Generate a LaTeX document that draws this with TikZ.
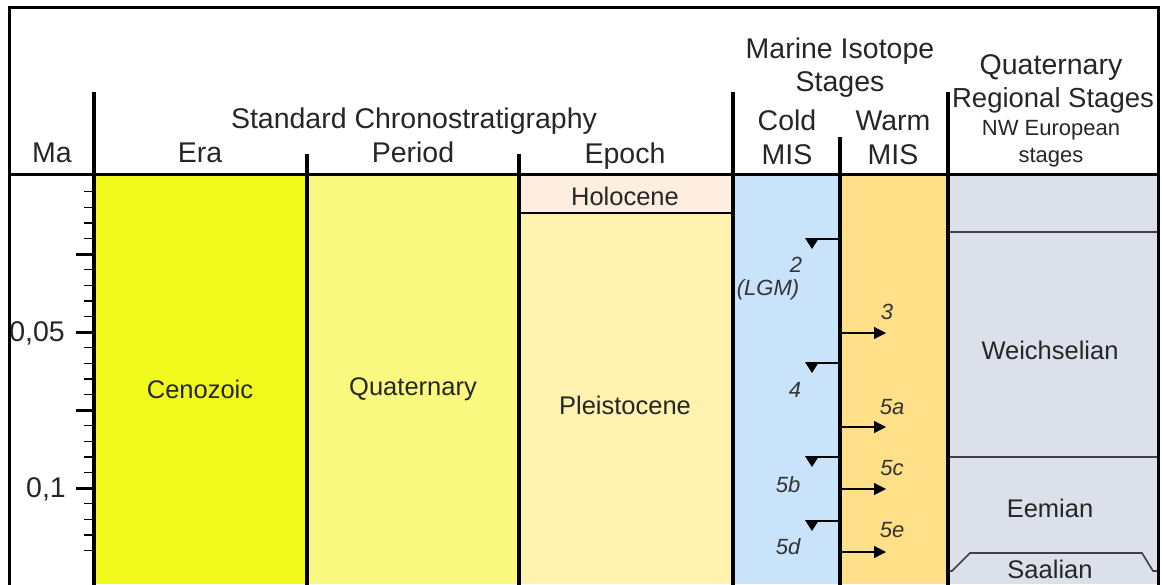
\documentclass[tikz,border=0pt]{standalone}
\usepackage{fontspec}
\setmainfont{Liberation Sans}
\usepackage{xcolor}
\usetikzlibrary{arrows.meta, positioning}
\definecolor{cenozoic}{HTML}{F2F91D}
\definecolor{quatern}{HTML}{F9F97F}
\definecolor{pleisto}{HTML}{FFF2AE}
\definecolor{holo}{HTML}{FDEEE0}
\definecolor{coldmis}{HTML}{C8E3FA}
\definecolor{warmmis}{HTML}{FFDF88}
\definecolor{regional}{HTML}{DCE0EA}
\tikzset{
  head/.style={font=\fontsize{28.5}{32}\selectfont, text=black!85, anchor=base, inner sep=0pt},
  subhead/.style={font=\fontsize{22}{25}\selectfont, text=black!85, anchor=base, inner sep=0pt},
  unit/.style={font=\fontsize{25.5}{29}\selectfont, text=black!85, inner sep=0pt},
  mis/.style={font=\fontsize{22}{25}\selectfont\itshape, text=black!80, inner sep=0pt},
  sep/.style={line width=4pt},
  frame/.style={line width=3pt},
  bound/.style={line width=1.6pt, draw=black!75},
  misline/.style={line width=1.3pt},
  tick/.style={line width=1.4pt}
}

\begin{document}
\begin{tikzpicture}[x=1pt, y=-1pt]
    \useasboundingbox (0,0) rectangle (1162,584);
    % column fills
    \fill[cenozoic] (94,176) rectangle (307,584);
    \fill[quatern] (307,176) rectangle (519,584);
    \fill[pleisto] (519,176) rectangle (733,584);
    \fill[holo] (519,176) rectangle (733,213);
    \fill[coldmis] (733,176) rectangle (840,584);
    \fill[warmmis] (840,176) rectangle (948,584);
    \fill[regional] (948,176) rectangle (1158,584);
    \draw[line width=1.8pt] (519,213) -- (733,213);
    \draw[bound] (948,232) -- (1158,232);
    \draw[bound] (948,457) -- (1158,457);
    \draw[bound] (948,571) -- (952,571) -- (970,553) -- (1142,553) -- (1153,571) -- (1158,571);

    % header texts
    \node[head] (ma) at (52,162) {Ma};
    \node[head] (era) at (200,162) {Era};
    \node[head] (stdchrono) at (414,128) {Standard Chronostratigraphy};
    \node[head] (period) at (413,162) {Period};
    \node[head] (epoch) at (625,163) {Epoch};
    \node[head] (marine) at (840,58) {Marine Isotope};
    \node[head] (stages) at (840,91) {Stages};
    \node[head] (cold) at (787,130) {Cold};
    \node[head] (coldmis) at (787,164) {MIS};
    \node[head] (warm) at (893,130) {Warm};
    \node[head] (warmmis) at (893,164) {MIS};
    \node[head] (quat) at (1051,74) {Quaternary};
    \node[head, font=\fontsize{27.5}{31}\selectfont] (regst) at (1053,107) {Regional Stages};
    \node[subhead] (nweur) at (1051,135) {NW European};
    \node[subhead] (nwst) at (1051,162) {stages};

    % unit names
    \node[unit] (ceno) at (200,389) {Cenozoic};
    \node[unit] (quater) at (413,389) {Quaternary};
    \node[unit] (pleist) at (625,405) {Pleistocene};
    \node[unit] (holocene) at (625,196) {Holocene};
    \node[unit] (weich) at (1050,350) {Weichselian};
    \node[unit] (eem) at (1050,508) {Eemian};
    \node[unit] (saal) at (1050,569) {Saalian};

    % age axis
    \foreach \i in {1,...,24}
      \draw[tick] (84,{176+15.6*\i}) -- (94,{176+15.6*\i});
    \foreach \i in {5,10,15,20}
      \draw[line width=3pt] (76,{176+15.6*\i}) -- (94,{176+15.6*\i});
    \node[head, anchor=east] (tfive) at (65,333) {0,05};
    \node[head, anchor=east] (tten) at (66,489) {0,1};

    % cold stages
    \foreach \y in {239,363,457,521} {
      \draw[misline] (840,\y) -- (812,\y);
      \fill (805,\y-1) -- (819,\y-1) -- (812,\y+10) -- cycle;
    }
    \node[mis] (mtwo) at (796,265) {2};
    \node[mis] (lgm) at (768,290) {(LGM)};
    \node[mis] (mfour) at (795,390) {4};
    \node[mis] (mfiveb) at (788,485) {5b};
    \node[mis] (mfived) at (788,547) {5d};

    % warm stages
    \foreach \y in {333,427,489,552}
      \draw[misline, -{Triangle[length=12pt, width=12pt]}] (842,\y) -- (886,\y);
    \node[mis] (mthree) at (887,312) {3};
    \node[mis] (mfivea) at (892,407) {5a};
    \node[mis] (mfivec) at (892,468) {5c};
    \node[mis] (mfivee) at (892,530) {5e};

    % frame and separators
    \draw[frame] (9,590) -- (9,7) -- (1158,7) -- (1158,590);
    \draw[frame] (9,174) -- (1158,174);
    \draw[sep] (94,92) -- (94,590);
    \draw[sep] (307,154) -- (307,590);
    \draw[sep] (519,154) -- (519,590);
    \draw[sep] (733,92) -- (733,590);
    \draw[sep] (840,137) -- (840,590);
    \draw[sep] (948,92) -- (948,590);
  \end{tikzpicture}
\end{document}
